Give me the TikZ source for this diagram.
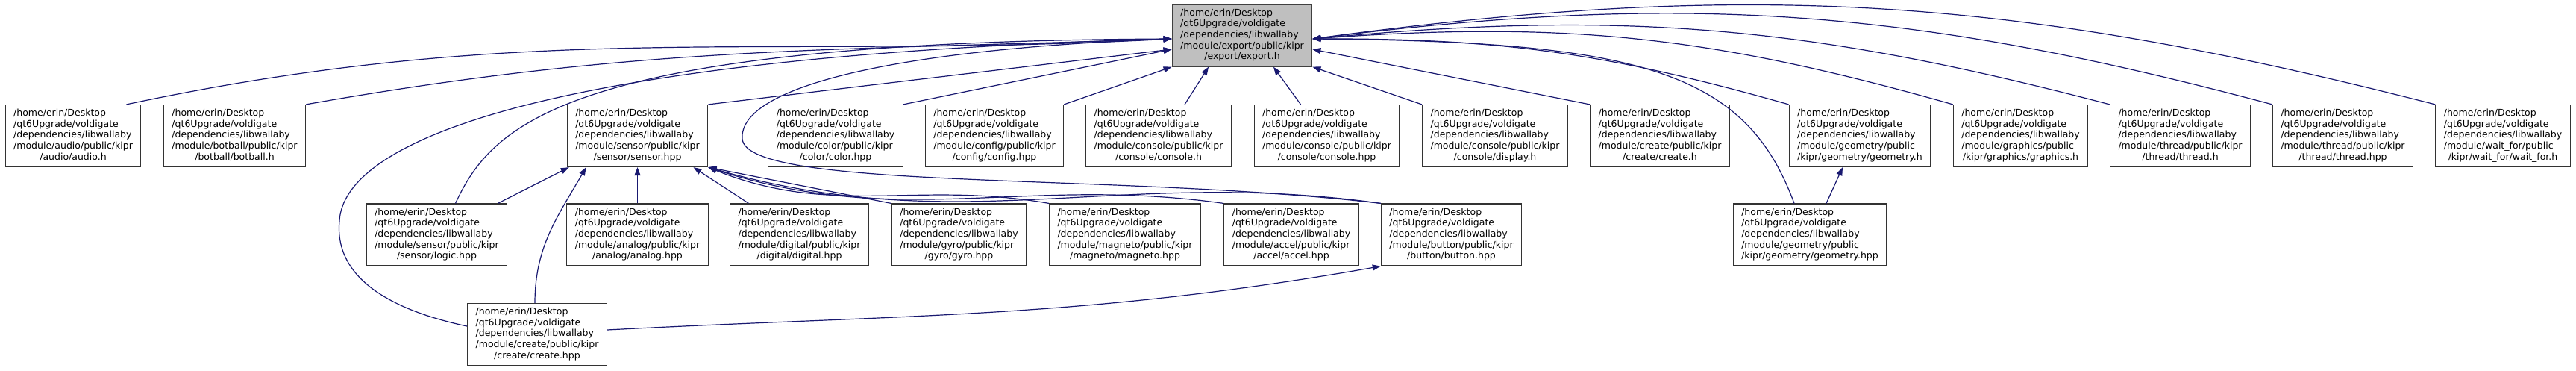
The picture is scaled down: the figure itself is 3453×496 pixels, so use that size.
\documentclass[tikz,border=0pt]{standalone}
\usepackage{fontspec}
\setmainfont{DejaVu Sans}
\usetikzlibrary{arrows.meta}
\definecolor{edgeblue}{RGB}{25,25,112}
\definecolor{rootgray}{RGB}{191,191,191}
\newcommand{\kpath}[2]{\begin{tabular}{@{}l@{}}/home/erin/Desktop\\/qt6Upgrade/voldigate\\/dependencies/libwallaby\\#1\\\multicolumn{1}{@{}c@{}}{#2}\end{tabular}}

\begin{document}
\begin{tikzpicture}[x=0.1pt,y=0.1pt,>={Triangle[length=1.1pt,width=0.8pt]},
  file/.style={draw=black!80,fill=white,line width=0.12pt,inner xsep=1.1pt,inner ysep=0.2pt,
    minimum height=8.3pt,font=\fontsize{1.25}{1.46}\selectfont},
  rootfile/.style={file,fill=rootgray,draw=black!75},
  dep/.style={->,draw=edgeblue,line width=0.12pt}]
  \useasboundingbox (0,0) rectangle (3453,496);
  \node[rootfile] (export) at (1665,448.5) {\kpath{/module/export/public/kipr}{/export/export.h}};
  % row 2
  \node[file] (audio) at (98,314) {\kpath{/module/audio/public/kipr}{/audio/audio.h}};
  \node[file] (botball) at (314.5,314) {\kpath{/module/botball/public/kipr}{/botball/botball.h}};
  \node[file] (sensor) at (854.5,314) {\kpath{/module/sensor/public/kipr}{/sensor/sensor.hpp}};
  \node[file] (color) at (1120,314) {\kpath{/module/color/public/kipr}{/color/color.hpp}};
  \node[file] (config) at (1333,314) {\kpath{/module/config/public/kipr}{/config/config.hpp}};
  \node[file] (consoleh) at (1553,314) {\kpath{/module/console/public/kipr}{/console/console.h}};
  \node[file] (consolehpp) at (1778.5,314) {\kpath{/module/console/public/kipr}{/console/console.hpp}};
  \node[file] (display) at (2004,314) {\kpath{/module/console/public/kipr}{/console/display.h}};
  \node[file] (createh) at (2225,314) {\kpath{/module/create/public/kipr}{/create/create.h}};
  \node[file] (geomh) at (2493,314) {\kpath{/module/geometry/public}{/kipr/geometry/geometry.h}};
  \node[file] (graphics) at (2708.5,314) {\kpath{/module/graphics/public}{/kipr/graphics/graphics.h}};
  \node[file] (threadh) at (2922.5,314) {\kpath{/module/thread/public/kipr}{/thread/thread.h}};
  \node[file] (threadhpp) at (3140.5,314) {\kpath{/module/thread/public/kipr}{/thread/thread.hpp}};
  \node[file] (waitfor) at (3355,314) {\kpath{/module/wait\_for/public}{/kipr/wait\_for/wait\_for.h}};
  % row 3
  \node[file] (logic) at (585.5,181.5) {\kpath{/module/sensor/public/kipr}{/sensor/logic.hpp}};
  \node[file] (analog) at (854.5,181.5) {\kpath{/module/analog/public/kipr}{/analog/analog.hpp}};
  \node[file] (digital) at (1071.5,181.5) {\kpath{/module/digital/public/kipr}{/digital/digital.hpp}};
  \node[file] (gyro) at (1285.5,181.5) {\kpath{/module/gyro/public/kipr}{/gyro/gyro.hpp}};
  \node[file] (magneto) at (1508,181.5) {\kpath{/module/magneto/public/kipr}{/magneto/magneto.hpp}};
  \node[file] (accel) at (1731,181.5) {\kpath{/module/accel/public/kipr}{/accel/accel.hpp}};
  \node[file] (button) at (1945.5,181.5) {\kpath{/module/button/public/kipr}{/button/button.hpp}};
  \node[file] (geomhpp) at (2426,181.5) {\kpath{/module/geometry/public}{/kipr/geometry/geometry.hpp}};
  % row 4
  \node[file] (createhpp) at (720,48) {\kpath{/module/create/public/kipr}{/create/create.hpp}};
  % into export, left
  \draw[dep] ([xshift=-2pt]audio.north east) to[out=12,in=183] ([yshift=-0.45pt]export.west);
  \draw[dep] (botball.north east) to[out=10,in=182] ([yshift=-0.45pt]export.west);
  \draw[dep] ([xshift=2.5pt]logic.north) .. controls (660,330) and (760,440) .. ([yshift=-0.45pt]export.west);
  \draw[dep] ([yshift=1.1pt]createhpp.west) .. controls (480,90) and (450,150) .. (455,200)
    .. controls (460,300) and (700,420) .. ([yshift=-0.45pt]export.west);
  \draw[dep] (button.north west) .. controls (1500,265) and (1000,240) .. (995,310)
    .. controls (990,380) and (1200,430) .. ([yshift=-0.45pt]export.west);
  \draw[dep] (sensor.north east) -- ([yshift=-1.85pt]export.west);
  \draw[dep] (color.north east) -- ([yshift=-1.85pt]export.west);
  \draw[dep] (config.north east) -- (export.south west);
  % into export, below
  \draw[dep] ([xshift=3.5pt]consoleh.north) -- ([xshift=-4.5pt]export.south);
  \draw[dep] ([xshift=-3.5pt]consolehpp.north) -- ([xshift=4.2pt]export.south);
  \draw[dep] (display.north west) -- (export.south east);
  % into export, right
  \draw[dep] (createh.north west) -- ([yshift=-1.85pt]export.east);
  \draw[dep] (geomh.north west) to[bend right=8] ([yshift=-0.45pt]export.east);
  \draw[dep] (graphics.north west) to[bend right=10] ([yshift=-0.45pt]export.east);
  \draw[dep] (threadh.north west) to[bend right=10] ([yshift=-0.45pt]export.east);
  \draw[dep] (threadhpp.north west) to[bend right=11] ([yshift=-0.45pt]export.east);
  \draw[dep] (waitfor.north west) to[bend right=11] ([yshift=-0.45pt]export.east);
  \draw[dep] ([xshift=-2.1pt]geomhpp.north) .. controls (2340,400) and (2200,440) .. ([yshift=-0.45pt]export.east);
  % into sensor
  \draw[dep] ([xshift=-1.3pt]logic.north east) -- ([xshift=0.3pt]sensor.south west);
  \draw[dep] ([xshift=-0.3pt]createhpp.north) to[out=90,in=-120] ([xshift=2.6pt]sensor.south west);
  \draw[dep] (analog) -- (sensor);
  \draw[dep] ([xshift=-6.8pt]digital.north) -- ([xshift=7.5pt]sensor.south);
  \draw[dep] (gyro.north west) -- (sensor.south east);
  \draw[dep] (magneto.north west) to[out=170,in=-22] (sensor.south east);
  \draw[dep] (accel.north west) to[out=172,in=-18] (sensor.south east);
  \draw[dep] (button.north west) to[out=172,in=-16] (sensor.south east);
  % others
  \draw[dep] ([xshift=2.2pt]geomhpp.north) -- ([xshift=-2.3pt]geomh.south);
  \draw[dep] ([yshift=0.6pt]createhpp.east) to[out=3,in=190] (button.south west);
\end{tikzpicture}
\end{document}
